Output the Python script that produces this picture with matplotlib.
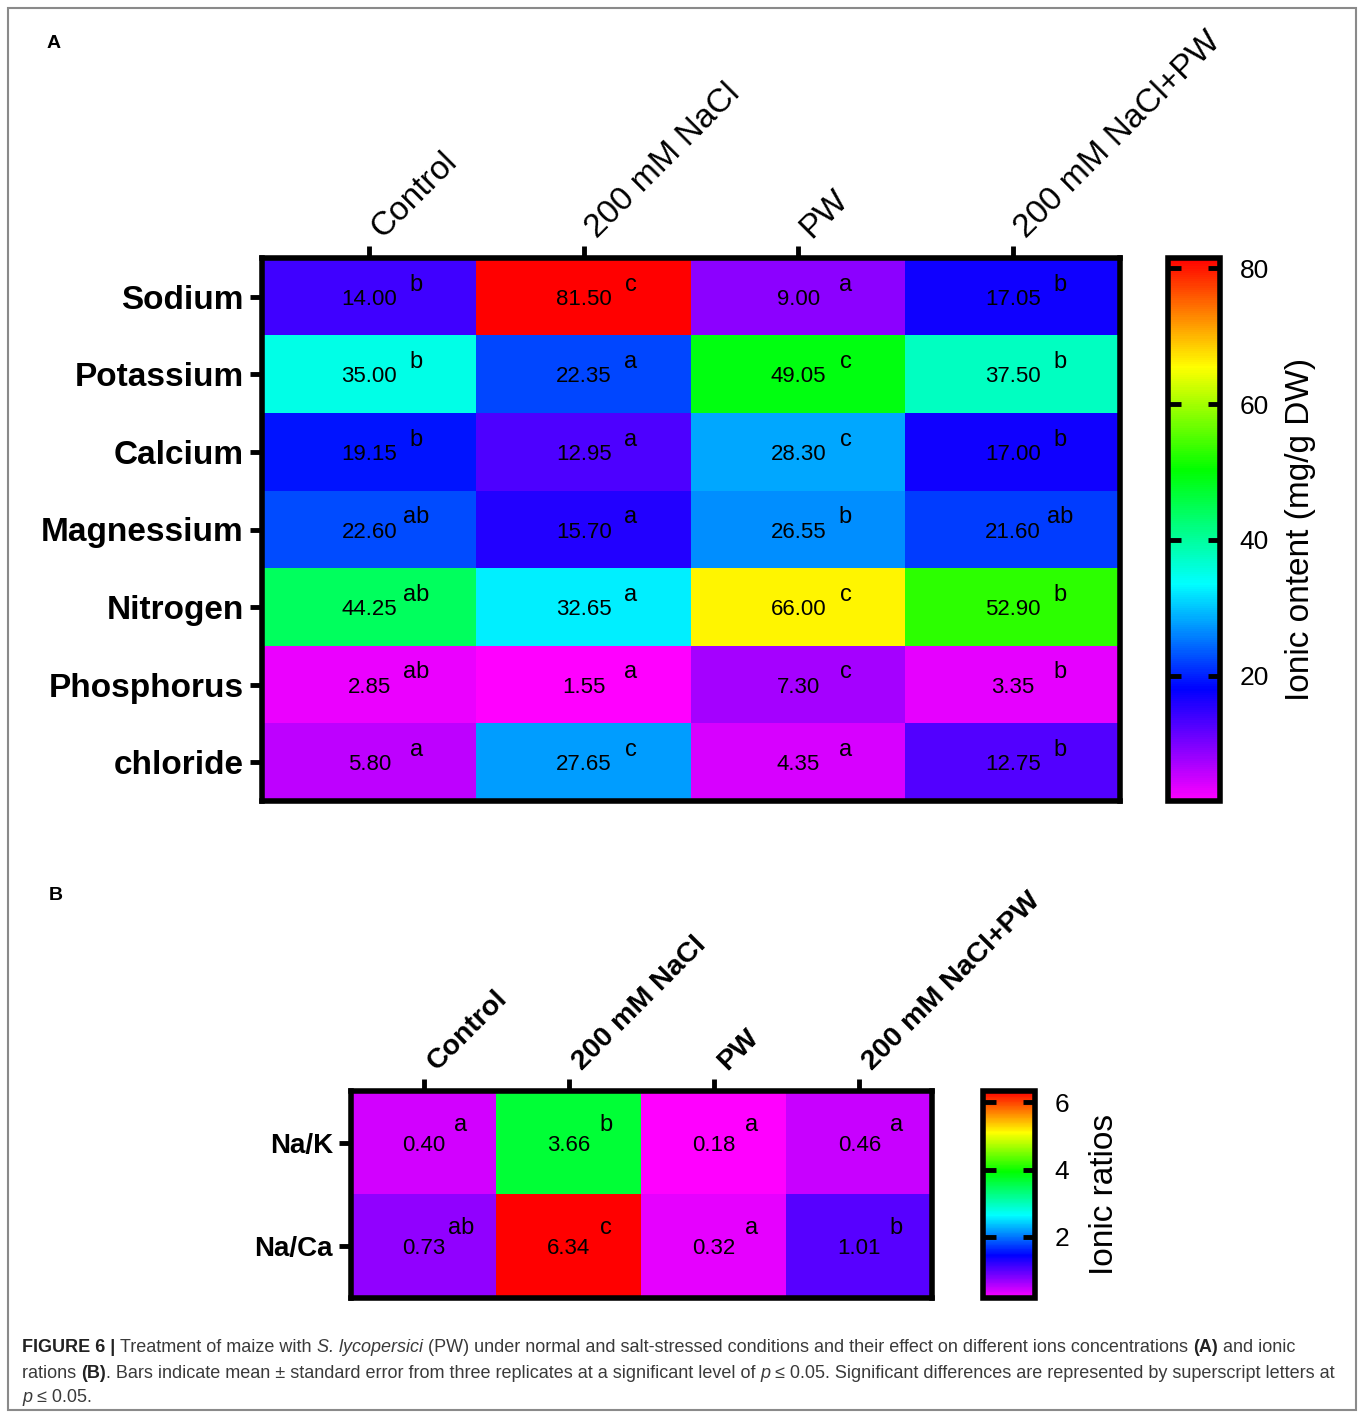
import matplotlib
matplotlib.use("Agg")
import matplotlib.pyplot as plt
import numpy as np
from matplotlib.colors import LinearSegmentedColormap
from matplotlib.patches import Rectangle

plt.rcParams['font.family'] = ['Liberation Sans', 'DejaVu Sans']

# ---- data ----
treatments = ['Control', '200 mM NaCl', 'PW', '200 mM NaCl+PW']
ions = ['Sodium', 'Potassium', 'Calcium', 'Magnessium', 'Nitrogen', 'Phosphorus', 'chloride']
ion_values = [
    [14.00, 81.50, 9.00, 17.05],
    [35.00, 22.35, 49.05, 37.50],
    [19.15, 12.95, 28.30, 17.00],
    [22.60, 15.70, 26.55, 21.60],
    [44.25, 32.65, 66.00, 52.90],
    [2.85, 1.55, 7.30, 3.35],
    [5.80, 27.65, 4.35, 12.75],
]
ion_letters = [
    ['b', 'c', 'a', 'b'],
    ['b', 'a', 'c', 'b'],
    ['b', 'a', 'c', 'b'],
    ['ab', 'a', 'b', 'ab'],
    ['ab', 'a', 'c', 'b'],
    ['ab', 'a', 'c', 'b'],
    ['a', 'c', 'a', 'b'],
]
ratios = ['Na/K', 'Na/Ca']
ratio_values = [
    [0.40, 3.66, 0.18, 0.46],
    [0.73, 6.34, 0.32, 1.01],
]
ratio_letters = [
    ['a', 'b', 'a', 'a'],
    ['ab', 'c', 'a', 'b'],
]
ion_ticks = [20, 40, 60, 80]
ratio_ticks = [2, 4, 6]

# GraphPad-like rainbow
cmap = LinearSegmentedColormap.from_list('rainbow_gp', [
    (0.00, '#ff00ff'),
    (0.10, '#8000ff'),
    (0.205, '#0000ff'),
    (0.40, '#00ffff'),
    (0.61, '#00ff00'),
    (0.80, '#ffff00'),
    (0.90, '#ff8000'),
    (1.00, '#ff0000'),
])

W, H = 1360, 1415
fig = plt.figure(figsize=(W / 100, H / 100), dpi=100)


def rect(x0, y0, x1, y1):
    return [x0 / W, 1 - y1 / H, (x1 - x0) / W, (y1 - y0) / H]


def heatmap(ax, cax, data, letters, rows, cols, lab_size, col_weight, col_size,
            col_off, dx, dy, cbar_ticks, cbar_label, label_pad):
    data = np.array(data)
    im = ax.imshow(data, cmap=cmap, vmin=data.min(), vmax=data.max(), aspect='auto',
                   interpolation='nearest')
    ax.set_xticks(range(len(cols)))
    ax.set_yticks(range(len(rows)))
    ax.xaxis.tick_top()
    ax.set_xticklabels([])
    ax.set_yticklabels(rows, fontsize=lab_size, fontweight='bold')
    ax.tick_params(length=9, width=3.5, pad=4)
    for j, c in enumerate(cols):
        ax.annotate(c, xy=(j, -0.5), xytext=col_off, textcoords='offset points',
                    rotation=45, ha='left', va='bottom', rotation_mode='anchor',
                    fontsize=col_size, fontweight=col_weight, annotation_clip=False)
    for s in ax.spines.values():
        s.set_linewidth(4)
    for i in range(data.shape[0]):
        for j in range(data.shape[1]):
            ax.text(j, i, f'{data[i, j]:.2f}', ha='center', va='center_baseline', fontsize=16)
            ax.text(j + dx, i - dy, letters[i][j], ha='center', va='center_baseline',
                    fontsize=17)
    cb = fig.colorbar(im, cax=cax)
    cb.set_ticks(cbar_ticks)
    cb.outline.set_linewidth(4)
    cax.tick_params(direction='in', length=9, width=3.5, left=True, right=True,
                    labelsize=19, pad=14)
    cax.set_ylabel(cbar_label, fontsize=24, labelpad=label_pad)
    return im


axA = fig.add_axes(rect(262, 258, 1120, 801))
caxA = fig.add_axes(rect(1168, 258, 1220, 801))
heatmap(axA, caxA, ion_values, ion_letters, ions, treatments, 24, 'normal', 24,
        (13, 10), 0.22, 0.19, ion_ticks, 'Ionic ontent (mg/g DW)', 12)

axB = fig.add_axes(rect(351, 1091, 932, 1298))
caxB = fig.add_axes(rect(983, 1091, 1035, 1298))
heatmap(axB, caxB, ratio_values, ratio_letters, ratios, treatments, 20, 'bold', 20.5,
        (12.5, 11.5), 0.255, 0.2, ratio_ticks, 'Ionic ratios', 14)

fig.text(47 / W, 1 - 43 / H, 'A', fontsize=14, fontweight='bold', va='center')
fig.text(49 / W, 1 - 895 / H, 'B', fontsize=14, fontweight='bold', va='center')

# outer frame
fig.patches.append(Rectangle((8 / W, 1 - 1410 / H), 1348 / W, 1402 / H,
                             transform=fig.transFigure, fill=False,
                             edgecolor='#8a8a8a', linewidth=1.5))

# caption with mixed styles
cap_font = ['Liberation Sans', 'DejaVu Sans']
cap_lines = [
    [('FIGURE 6 | ', 'bold'), ('Treatment of maize with ', 'normal'),
     ('S. lycopersici', 'italic'),
     (' (PW) under normal and salt-stressed conditions and their effect on different ions concentrations ', 'normal'),
     ('(A)', 'bold'), (' and ionic', 'normal')],
    [('rations ', 'normal'), ('(B)', 'bold'),
     ('. Bars indicate mean \u00b1 standard error from three replicates at a significant level of ', 'normal'),
     ('p', 'italic'),
     (' \u2264 0.05. Significant differences are represented by superscript letters at', 'normal')],
    [('p', 'italic'), (' \u2264 0.05.', 'normal')],
]
cap_y = [1348, 1373, 1397]
renderer = fig.canvas.get_renderer()
for line, y in zip(cap_lines, cap_y):
    x = 22
    for txt, style in line:
        kw = dict(fontsize=13, family=cap_font, va='center', ha='left', color='#3a3a3a')
        if style == 'bold':
            kw['fontweight'] = 'bold'
            kw['color'] = '#222222'
        elif style == 'italic':
            kw['fontstyle'] = 'italic'
        t = fig.text(x / W, 1 - y / H, txt, **kw)
        bb = t.get_window_extent(renderer)
        x += bb.width

fig.savefig('out.png', dpi=100)
